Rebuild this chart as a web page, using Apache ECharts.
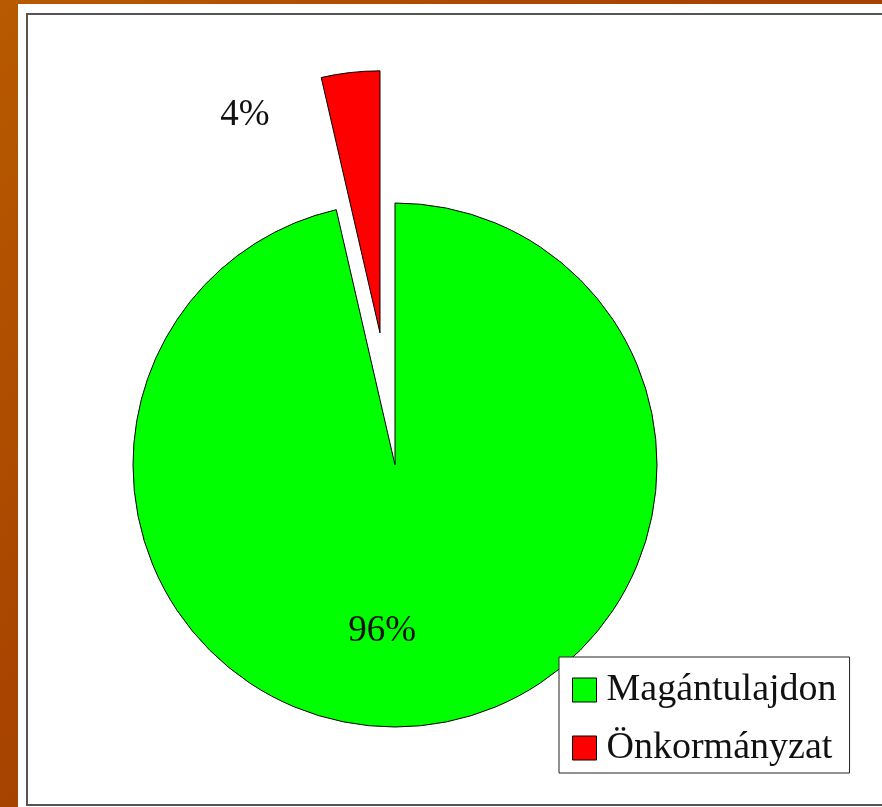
<!DOCTYPE html>
<html>
<head>
<meta charset="utf-8">
<script src="https://cdn.jsdelivr.net/npm/echarts@6/dist/echarts.min.js"></script>
<style>
  html, body { margin: 0; padding: 0; background: #a84400; }
  #main { width: 882px; height: 807px; }
</style>
</head>
<body>
<div id="main"></div>
<script>
// chart values
const categories = ['Magántulajdon', 'Önkormányzat']
const values = [96.4, 3.6]
const colors = ['#00ff00', '#ff0000']
// label nudges (inside position -> where the original puts them)
const labelShift = [[-28, 33], [-120, -84]]

const chart = echarts.init(document.getElementById('main'))

const option = {
  animation: false,
  backgroundColor: {
    type: 'linear', x: 0, y: 0, x2: 1, y2: 1,
    colorStops: [
      { offset: 0, color: '#b85a00' },
      { offset: 0.4, color: '#a84400' },
      { offset: 1, color: '#9c3a00' }
    ]
  },
  graphic: [
    {
      type: 'rect',
      silent: true,
      z: -10,
      shape: { x: 18, y: 4, width: 880, height: 820 },
      style: { fill: '#ffffff' }
    },
    {
      type: 'rect',
      silent: true,
      z: -9,
      shape: { x: 27, y: 14, width: 870, height: 791 },
      style: { fill: '#ffffff', stroke: '#555555', lineWidth: 2 }
    }
  ],
  legend: {
    orient: 'vertical',
    left: 559,
    top: 657,
    backgroundColor: '#ffffff',
    borderColor: '#222222',
    borderWidth: 1,
    borderRadius: 0,
    padding: [14, 13, 6, 13],
    itemGap: 20,
    itemWidth: 24,
    itemHeight: 24,
    icon: 'rect',
    selectedMode: false,
    itemStyle: { borderColor: '#000000', borderWidth: 1 },
    textStyle: {
      fontFamily: 'Liberation Serif',
      fontSize: 38,
      lineHeight: 36,
      color: '#111111',
      padding: [0, 0, 0, 5]
    },
    data: categories
  },
  series: [
    {
      type: 'pie',
      center: [395, 465],
      radius: [0, 262],
      startAngle: 90,
      clockwise: true,
      selectedMode: 'single',
      selectedOffset: 133,
      avoidLabelOverlap: false,
      emphasis: { disabled: true },
      itemStyle: { borderColor: '#000000', borderWidth: 1 },
      label: {
        show: true,
        position: 'inside',
        formatter: function (p) { return Math.round(p.percent) + '%' },
        fontFamily: 'Liberation Serif',
        fontSize: 37,
        color: '#111111'
      },
      labelLine: { show: false },
      labelLayout: function (params) {
        const s = labelShift[params.dataIndex]
        return { dx: s[0], dy: s[1] }
      },
      data: categories.map(function (name, i) {
        return {
          name: name,
          value: values[i],
          selected: i === 1,
          itemStyle: { color: colors[i] },
          select: { itemStyle: { color: colors[i], borderColor: '#000000', borderWidth: 1 } }
        }
      })
    }
  ]
}

chart.setOption(option)
</script>
</body>
</html>
